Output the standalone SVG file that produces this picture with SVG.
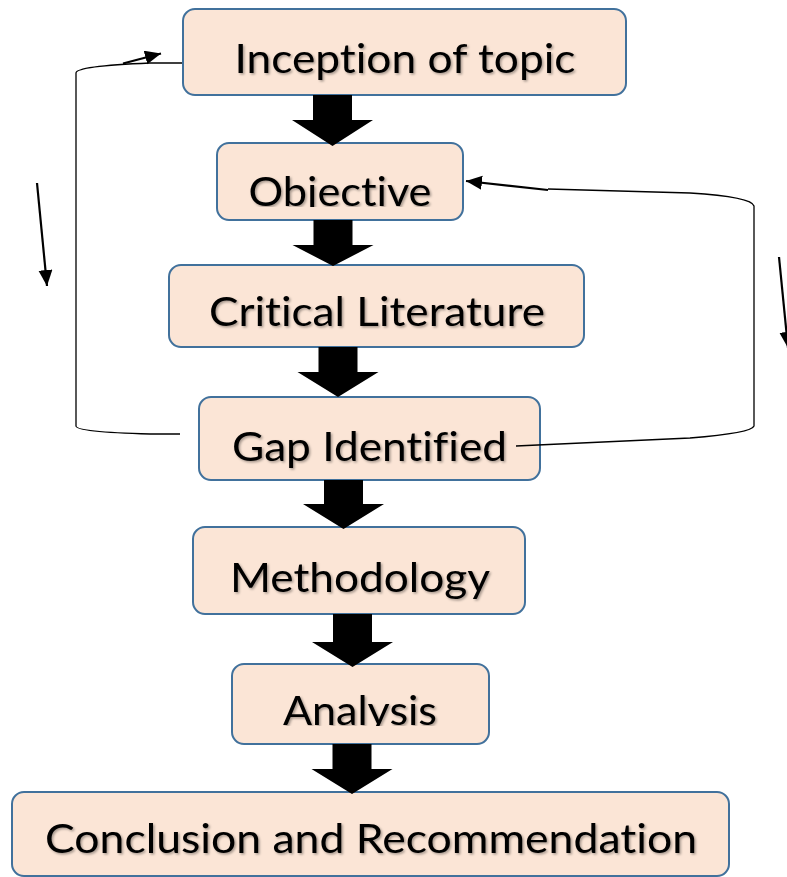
<svg xmlns="http://www.w3.org/2000/svg" width="787" height="877" viewBox="0 0 787 877">
<style>
.box{fill:#FBE5D6;stroke:#41719C;stroke-width:2}
.lbl{font-family:Lato,"Open Sans","Liberation Sans",sans-serif;font-size:41px;fill:#000;text-anchor:middle;filter:url(#sh);font-variant-ligatures:none;font-feature-settings:"liga" 0}
.blk{fill:#000}
.ln{fill:none;stroke:#000;stroke-width:1.3}
.ar{fill:none;stroke:#000;stroke-width:2.2}
</style>
<defs>
<filter id="sh" x="-10%" y="-20%" width="120%" height="150%">
<feDropShadow dx="1.5" dy="1.5" stdDeviation="1" flood-color="#000" flood-opacity="0.35"/>
</filter>
<marker id="ah" markerUnits="userSpaceOnUse" markerWidth="18" markerHeight="15" refX="16" refY="7" orient="auto">
<path d="M0,0 L16,7 L0,14 Z" fill="#000"/>
</marker>
<clipPath id="clipObj"><rect x="200" y="140" width="280" height="67"/></clipPath>
<clipPath id="clipAna"><rect x="220" y="660" width="280" height="66"/></clipPath>
</defs>

<g id="node-inception">
<rect class="box" x="183" y="9" width="443" height="86" rx="12"/>
<text class="lbl" x="405" y="73" textLength="341" lengthAdjust="spacingAndGlyphs">Inception of topic</text>
</g>
<g id="node-objective">
<rect class="box" x="217" y="143" width="246" height="77" rx="12"/>
<g clip-path="url(#clipObj)"><text class="lbl" x="340" y="206" textLength="183" lengthAdjust="spacingAndGlyphs">Objective</text></g>
</g>
<g id="node-critical">
<rect class="box" x="169" y="265" width="415" height="82" rx="12"/>
<text class="lbl" x="377" y="326" textLength="336" lengthAdjust="spacingAndGlyphs">Critical Literature</text>
</g>
<g id="node-gap">
<rect class="box" x="199" y="397" width="341" height="83" rx="12"/>
<text class="lbl" x="369.5" y="461" textLength="275" lengthAdjust="spacingAndGlyphs">Gap Identified</text>
</g>
<g id="node-methodology">
<rect class="box" x="193" y="527" width="332" height="87" rx="12"/>
<text class="lbl" x="360" y="592" textLength="260" lengthAdjust="spacingAndGlyphs">Methodology</text>
</g>
<g id="node-analysis">
<rect class="box" x="232" y="664" width="257" height="80" rx="12"/>
<g clip-path="url(#clipAna)"><text class="lbl" x="360" y="725" textLength="154" lengthAdjust="spacingAndGlyphs">Analysis</text></g>
</g>
<g id="node-conclusion">
<rect class="box" x="12" y="792" width="717" height="84" rx="12"/>
<text class="lbl" x="371" y="853" textLength="652" lengthAdjust="spacingAndGlyphs">Conclusion and Recommendation</text>
</g>

<g id="connectors">
<polygon class="blk" points="313,95 352,95 352,120 373,120 332.5,146 292,120 313,120"/>
<polygon class="blk" points="313.5,220 352.5,220 352.5,245 373.5,245 333,266 292.5,245 313.5,245"/>
<polygon class="blk" points="318.5,347 357.5,347 357.5,372 378.5,372 338,397 297.5,372 318.5,372"/>
<polygon class="blk" points="324,480 363,480 363,504 384,504 343.5,529 303,504 324,504"/>
<polygon class="blk" points="333,614 372,614 372,642 393,642 352.5,667 312,642 333,642"/>
<polygon class="blk" points="332.5,744 371.5,744 371.5,769 392.5,769 352,794 311.5,769 332.5,769"/>
<path class="ln" d="M180,434 L150,434 Q76,432 76,426 L76,73 Q76,66 150,63 L182,63"/>
<path class="ar" d="M123,63.5 L161,53.5" marker-end="url(#ah)"/>
<path class="ar" d="M37,183 L47,286" marker-end="url(#ah)"/>
<path class="ln" d="M516,446 L690,438 Q752,433 754,426 L754,206 Q752,197 690,193 L548,189"/>
<path class="ar" d="M548,190 L466,181" marker-end="url(#ah)"/>
<path class="ar" d="M779,257 L788,348" marker-end="url(#ah)"/>
</g>
</svg>
